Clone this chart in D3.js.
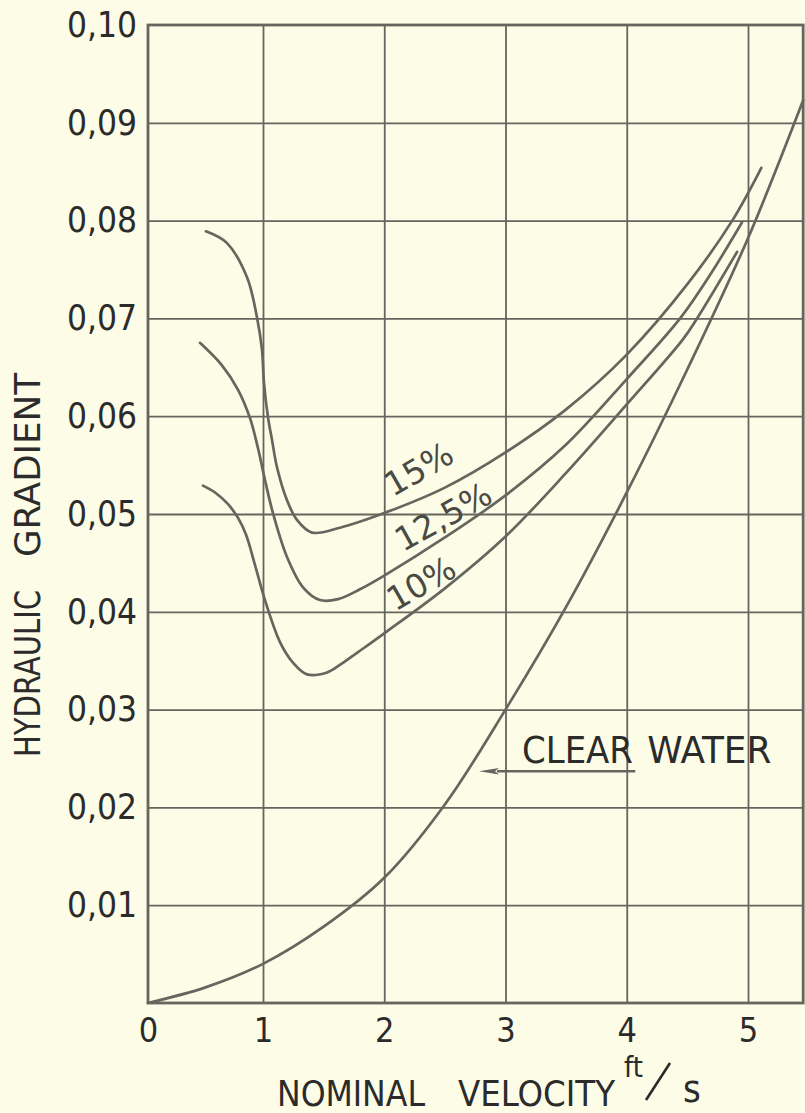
<!DOCTYPE html>
<html>
<head>
<meta charset="utf-8">
<script src="https://cdn.jsdelivr.net/npm/d3@7"></script>
<style>
  html, body { margin: 0; padding: 0; background: #fdfce6; }
  svg { display: block; }
  .tick text { font-family: "DejaVu Sans Condensed", "DejaVu Sans", sans-serif; font-stretch: condensed; fill: #2b2b2b; }
  .lbl { font-family: "DejaVu Sans Condensed", "DejaVu Sans", sans-serif; font-stretch: condensed; fill: #2b2b2b; }
</style>
</head>
<body>
<div id="chart"></div>
<script>
// values (velocity ft/s, hydraulic gradient)
var seriesNames = ["15%", "12,5%", "10%", "CLEAR WATER"];

var vel15  = [0.504, 0.687, 0.861, 0.948, 0.991, 1.008, 1.041, 1.074, 1.115, 1.198, 1.28, 1.404, 1.635, 2.0, 2.5, 3.0, 3.5, 4.0, 4.5, 4.87, 5.11];
var grad15 = [0.0789, 0.0777, 0.0742, 0.0701, 0.0668, 0.0634, 0.0599, 0.0576, 0.0548, 0.0514, 0.0494, 0.0481, 0.0486, 0.0501, 0.0527, 0.0563, 0.0607, 0.0663, 0.0735, 0.0800, 0.0854];

var vel125  = [0.452, 0.643, 0.783, 0.887, 0.957, 1.016, 1.082, 1.198, 1.33, 1.47, 1.62, 1.80, 2.0, 2.5, 3.0, 3.5, 4.0, 4.44, 4.7, 4.95];
var grad125 = [0.0675, 0.0652, 0.0627, 0.0598, 0.0567, 0.0535, 0.0501, 0.0456, 0.0425, 0.0412, 0.0413, 0.0423, 0.0437, 0.0476, 0.0519, 0.0571, 0.0638, 0.0700, 0.0747, 0.0798];

var vel10  = [0.478, 0.583, 0.696, 0.783, 0.852, 0.930, 1.016, 1.14, 1.247, 1.363, 1.528, 1.65, 1.775, 2.0, 2.5, 3.0, 3.5, 4.0, 4.46, 4.58, 4.91];
var grad10 = [0.0529, 0.0522, 0.0510, 0.0496, 0.0479, 0.0448, 0.0412, 0.0369, 0.0348, 0.0336, 0.0338, 0.0347, 0.0358, 0.0378, 0.0424, 0.0477, 0.0542, 0.0612, 0.0678, 0.0700, 0.0768];

var velCW  = [0, 0.5, 1.0, 1.5, 2.0, 2.5, 3.0, 3.5, 4.0, 4.5, 5.0, 5.455];
var gradCW = [0, 0.0016, 0.0040, 0.0078, 0.0128, 0.0203, 0.0300, 0.0405, 0.0522, 0.0648, 0.0782, 0.0923];

var xTicks = [0, 1, 2, 3, 4, 5];
var yTicks = [0.01, 0.02, 0.03, 0.04, 0.05, 0.06, 0.07, 0.08, 0.09, 0.10];

var w = 805, h = 1113;
var xMax = 5.455;

var svg = d3.select("#chart").append("svg")
  .attr("width", w)
  .attr("height", h);

// the hand drawn grid has a narrower first column, so x is piecewise
var x = d3.scaleLinear()
  .domain([0, 1, 5])
  .range([148, 263, 748]);

var y = d3.scaleLinear()
  .domain([0, 0.10])
  .range([1003, 25]);

var lineCol = "#66655e";
var textCol = "#2b2b2b";
var comma = d3.formatLocale({decimal: ",", thousands: ".", grouping: [3], currency: ["", ""]});
var fmtY = comma.format(".2f");

// grid
svg.append("g")
  .attr("transform", "translate(0," + y(0) + ")")
  .call(d3.axisBottom(x).tickValues(xTicks.slice(1)).tickSize(y(0.10) - y(0)).tickFormat(""))
  .call(function(g){ g.select(".domain").remove(); })
  .selectAll("line").attr("stroke", lineCol).attr("stroke-width", 1.8);

svg.append("g")
  .attr("transform", "translate(" + x(0) + ",0)")
  .call(d3.axisLeft(y).tickValues(yTicks.slice(0, -1)).tickSize(-(x(xMax) - x(0))).tickFormat(""))
  .call(function(g){ g.select(".domain").remove(); })
  .selectAll("line").attr("stroke", lineCol).attr("stroke-width", 1.8);

// frame
svg.append("rect")
  .attr("x", x(0))
  .attr("y", y(0.10))
  .attr("width", x(xMax) - x(0))
  .attr("height", y(0) - y(0.10))
  .attr("fill", "none")
  .attr("stroke", lineCol)
  .attr("stroke-width", 2.8);

// tick labels
var yAxis = svg.append("g")
  .attr("transform", "translate(" + x(0) + ",0)")
  .call(d3.axisLeft(y).tickValues(yTicks).tickSize(0).tickPadding(11).tickFormat(fmtY));
yAxis.select(".domain").remove();
yAxis.selectAll("text").style("font-size", "35px");

var xAxis = svg.append("g")
  .attr("transform", "translate(0," + y(0) + ")")
  .call(d3.axisBottom(x).tickValues(xTicks).tickSize(0).tickPadding(15).tickFormat(d3.format("d")));
xAxis.select(".domain").remove();
xAxis.selectAll("text").style("font-size", "34px");

// curves
var line = d3.line()
  .x(function(d){ return x(d[0]); })
  .y(function(d){ return y(d[1]); })
  .curve(d3.curveCatmullRom.alpha(0.5));

var curves = [
  d3.zip(vel15, grad15),
  d3.zip(vel125, grad125),
  d3.zip(vel10, grad10),
  d3.zip(velCW, gradCW)
];

svg.selectAll("path.curve")
  .data(curves)
  .enter()
  .append("path")
  .attr("class", "curve")
  .attr("d", line)
  .attr("fill", "none")
  .attr("stroke", lineCol)
  .attr("stroke-width", 2.7)
  .attr("stroke-linecap", "round");

// curve labels, anchored in data units
var labelAt = [[2.07, 0.0517, -30], [2.155, 0.0461, -29], [2.09, 0.0400, -30]];
svg.selectAll("text.pct")
  .data(labelAt)
  .enter()
  .append("text")
  .attr("class", "pct")
  .attr("transform", function(d){ return "translate(" + x(d[0]) + "," + y(d[1]) + ") rotate(" + d[2] + ")"; })
  .style("font-family", "DejaVu Sans, sans-serif")
  .style("font-size", "33px")
  .style("fill", "#4a4a44")
  .text(function(d, i){ return seriesNames[i]; });

// words placed one by one so the hand lettered gaps are kept
function word(txt, px, py, len, size, rot) {
  var t = svg.append("text")
    .attr("class", "lbl")
    .style("font-size", size + "px")
    .attr("textLength", len)
    .attr("lengthAdjust", "spacingAndGlyphs")
    .text(txt);
  if (rot) t.attr("transform", "translate(" + px + "," + py + ") rotate(" + rot + ")");
  else t.attr("x", px).attr("y", py);
  return t;
}

// clear water label + arrow
var cw = seriesNames[3].split(" ");
word(cw[0], x(3.136), y(0.0245), 111, 37);
word(cw[1], x(4.17), y(0.0245), 124, 37);

svg.append("defs").append("marker")
  .attr("id", "head")
  .attr("viewBox", "0 0 20 8")
  .attr("preserveAspectRatio", "none")
  .attr("refX", 2).attr("refY", 4)
  .attr("markerWidth", 20).attr("markerHeight", 8)
  .attr("markerUnits", "userSpaceOnUse")
  .attr("orient", "auto")
  .append("path")
  .attr("d", "M20,4 L0,0.8 L4,4 L0,7.2 Z")
  .attr("fill", lineCol);

svg.append("line")
  .attr("x1", x(4.07)).attr("y1", y(0.0237))
  .attr("x2", x(2.93)).attr("y2", y(0.0237))
  .attr("stroke", lineCol)
  .attr("stroke-width", 2.4)
  .attr("marker-end", "url(#head)");

// axis titles
word("HYDRAULIC", 40, 757, 167, 36, -90);
word("GRADIENT", 40, 557, 184, 36, -90);

word("NOMINAL", 277, 1106, 148, 36);
word("VELOCITY", 458, 1106, 157, 36);

svg.append("text")
  .attr("class", "lbl")
  .attr("x", 624)
  .attr("y", 1077)
  .style("font-size", "29px")
  .text("ft");

svg.append("line")
  .attr("x1", 646).attr("y1", 1100)
  .attr("x2", 670).attr("y2", 1063)
  .attr("stroke", textCol)
  .attr("stroke-width", 2.6);

svg.append("text")
  .attr("class", "lbl")
  .attr("x", 683)
  .attr("y", 1102)
  .style("font-size", "38px")
  .text("s");
</script>
</body>
</html>
